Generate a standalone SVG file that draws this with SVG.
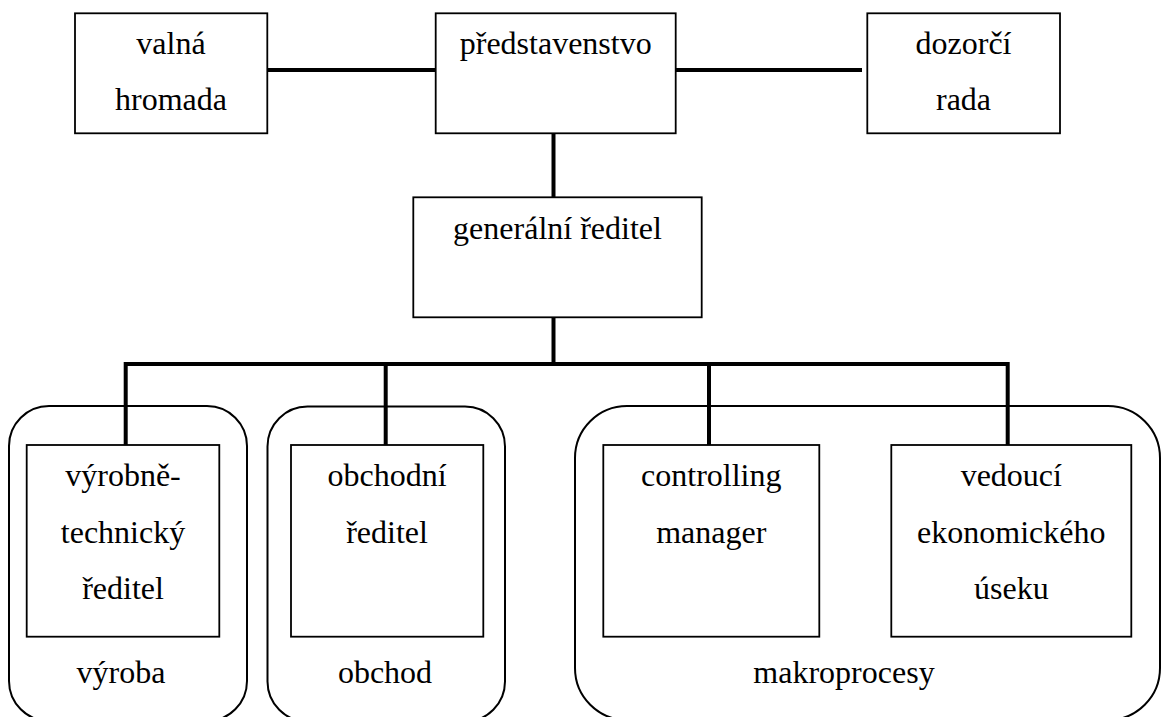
<svg xmlns="http://www.w3.org/2000/svg" width="1162" height="717" viewBox="0 0 1162 717">
<style>
.box{fill:#fff;stroke:#000;stroke-width:1.8}
.grp{fill:none;stroke:#000;stroke-width:2}
.con{stroke:#000;stroke-width:4;fill:none;stroke-linecap:butt}
text{font-family:"Liberation Serif","Times New Roman",serif;font-size:32px;fill:#000;text-anchor:middle}
</style>
<rect width="1162" height="717" fill="#fff"/>
<g id="group-vyroba">
<rect class="grp" x="9" y="406" width="238" height="315" rx="40" ry="40"/>
<text x="121" y="683">výroba</text>
</g>
<g id="group-obchod">
<rect class="grp" x="267.5" y="406.5" width="237.5" height="315" rx="40" ry="40"/>
<text x="385" y="683">obchod</text>
</g>
<g id="group-makroprocesy">
<rect class="grp" x="575" y="406" width="585" height="314" rx="52" ry="52"/>
<text x="844" y="683">makroprocesy</text>
</g>
<g id="connectors">
<line class="con" x1="267" y1="70" x2="436" y2="70"/>
<line class="con" x1="676" y1="70" x2="862" y2="70"/>
<line class="con" x1="553.5" y1="133" x2="553.5" y2="197"/>
<line class="con" x1="553.5" y1="317" x2="553.5" y2="364"/>
<polyline class="con" points="125.7,445 125.7,364 1007.7,364 1007.7,445"/>
<line class="con" x1="385.7" y1="364" x2="385.7" y2="445"/>
<line class="con" x1="709" y1="364" x2="709" y2="445"/>
</g>
<g id="valna-hromada">
<rect class="box" x="75" y="13.3" width="192.3" height="120"/>
<text x="171" y="54">valná</text>
<text x="171" y="110">hromada</text>
</g>
<g id="predstavenstvo">
<rect class="box" x="435.7" y="13.3" width="240" height="120"/>
<text x="555.7" y="54">představenstvo</text>
</g>
<g id="dozorci-rada">
<rect class="box" x="867.3" y="13.3" width="192.7" height="120"/>
<text x="963.5" y="54">dozorčí</text>
<text x="963.5" y="110">rada</text>
</g>
<g id="generalni-reditel">
<rect class="box" x="413.3" y="197.3" width="288.4" height="120"/>
<text x="557.5" y="239">generální ředitel</text>
</g>
<g id="vyrobne-technicky-reditel">
<rect class="box" x="26.7" y="445" width="192.6" height="191.7"/>
<text x="123" y="486">výrobně-</text>
<text x="123" y="542.7">technický</text>
<text x="123" y="599">ředitel</text>
</g>
<g id="obchodni-reditel">
<rect class="box" x="291" y="445" width="192.3" height="191.7"/>
<text x="387" y="486">obchodní</text>
<text x="387" y="542.7">ředitel</text>
</g>
<g id="controlling-manager">
<rect class="box" x="603.3" y="445" width="216" height="191.7"/>
<text x="711.3" y="486">controlling</text>
<text x="711.3" y="542.7">manager</text>
</g>
<g id="vedouci-ekonomickeho-useku">
<rect class="box" x="891.3" y="445" width="240" height="191.7"/>
<text x="1011.3" y="486">vedoucí</text>
<text x="1011.3" y="542.7">ekonomického</text>
<text x="1011.3" y="599">úseku</text>
</g>
</svg>
